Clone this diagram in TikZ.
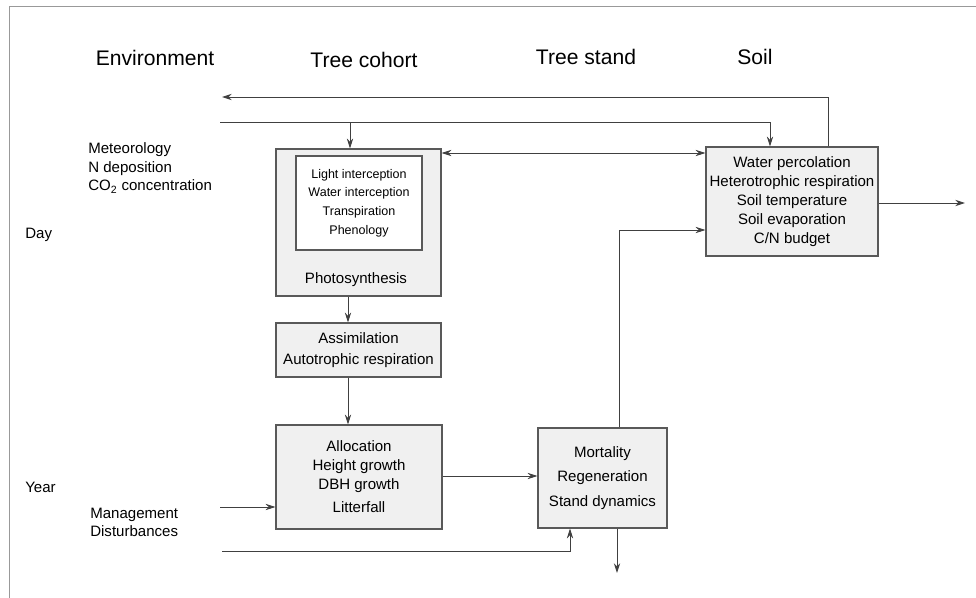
\documentclass[tikz,border=0pt]{standalone}
\usepackage{fontspec}
\setmainfont{Liberation Sans}
\usetikzlibrary{arrows.meta}

\begin{document}
\begin{tikzpicture}[x=0.025cm,y=-0.025cm,
  box/.style={draw=black!65,fill=black!6,line width=0.8pt,inner sep=0pt,align=center,font=\fontsize{10.7}{13.5}\selectfont},
  flow/.style={draw=black!75,line width=0.6pt,-{Stealth[length=7pt,width=4.5pt]}},
  twoway/.style={draw=black!75,line width=0.6pt,{Stealth[length=7pt,width=4.5pt]}-{Stealth[length=7pt,width=4.5pt]}},
  head/.style={font=\fontsize{15}{18}\selectfont},
  lab/.style={font=\fontsize{10.7}{13.2}\selectfont,align=left,anchor=west,inner sep=0pt}]
\useasboundingbox (0,0) rectangle (976,598);
\draw[black!40] (9,598) -- (9,6) -- (976,6);
\node[head] (env) at (155,58) {Environment};
\node[head] (cohort) at (364,60) {Tree cohort};
\node[head] (standh) at (586,57) {Tree stand};
\node[head] (soilh) at (755,57) {Soil};
\node[lab] (meteo) at (88,168) {Meteorology\\N deposition\\CO\textsubscript{2} concentration};
\node[lab] (day) at (25,235) {Day};
\node[lab] (year) at (25,487) {Year};
\node[lab] (manage) at (90,522.5) {Management\\Disturbances};
\node[box,minimum width=4.125cm,minimum height=3.675cm] (photo) at (358.5,222.5) {};
\node[box,fill=white,minimum width=3.15cm,minimum height=2.35cm,font=\fontsize{8.9}{13.3}\selectfont] (inner) at (359,203) {Light interception\\Water interception\\Transpiration\\Phenology};
\node[font=\fontsize{10.7}{13.5}\selectfont] (photolab) at (356,280) {Photosynthesis};
\node[box,minimum width=4.125cm,minimum height=1.35cm,font=\fontsize{10.7}{15}\selectfont] (assim) at (358.5,350) {Assimilation\\Autotrophic respiration};
\node[box,minimum width=4.15cm,minimum height=2.6cm] (alloc) at (359,477) {Allocation\\Height growth\\DBH growth\\[3pt]Litterfall};
\node[box,minimum width=3.225cm,minimum height=2.5cm,font=\fontsize{10.7}{17.4}\selectfont] (stand) at (602.5,478) {Mortality\\Regeneration\\Stand dynamics};
\node[box,minimum width=4.3cm,minimum height=2.725cm] (soil) at (792,201.5) {Water percolation\\Heterotrophic respiration\\Soil temperature\\Soil evaporation\\C/N budget};
\coordinate (fbk) at (222,97);
\coordinate (met) at (220,122);
\coordinate (soilout) at (965,203);
\coordinate (mgmt) at (220,507);
\coordinate (dist) at (222,551);
\coordinate (standout) at (617,573);
\draw[flow] (828,0 |- soil.north) |- (fbk);
\draw[flow] (met) -| (770,0 |- soil.north);
\draw[flow] (350,122) -- (350,0 |- photo.north);
\draw[twoway] (photo.east |- 0,153) -- (soil.west |- 0,153);
\draw[flow] (soil.east |- soilout) -- (soilout);
\draw[flow] (619,0 |- stand.north) |- (soil.west |- 0,230);
\draw[flow] (348,0 |- photo.south) -- (348,0 |- assim.north);
\draw[flow] (348,0 |- assim.south) -- (348,0 |- alloc.north);
\draw[flow] (alloc.east |- 0,476) -- (stand.west |- 0,476);
\draw[flow] (mgmt) -- (alloc.west |- mgmt);
\draw[flow] (dist) -| (570,0 |- stand.south);
\draw[flow] (standout |- stand.south) -- (standout);
\end{tikzpicture}
\end{document}
